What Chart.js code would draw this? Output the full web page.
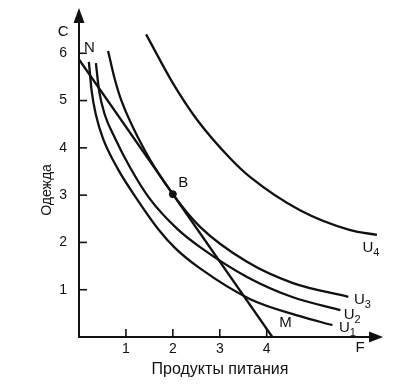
<!DOCTYPE html>
<html><head><meta charset="utf-8">
<script src="https://cdn.jsdelivr.net/npm/chart.js@4.4.1/dist/chart.umd.min.js"></script>
<style>html,body{margin:0;padding:0;background:#fff;}</style>
</head><body>
<canvas id="c" width="411" height="384"></canvas>
<script>
// ---- data ----
const xTicks = [1, 2, 3, 4];
const yTicks = [1, 2, 3, 4, 5, 6];
const xTitle = 'Продукты питания';
const yTitle = 'Одежда';
const curveU1 = [[0.21,5.82],[0.27,5.20],[0.36,4.70],[0.51,4.20],[0.83,3.55],[1.26,2.88],[1.69,2.28],[2.05,1.88],[2.58,1.45],[3.65,0.80],[4.71,0.44],[5.40,0.25]];
const curveU2 = [[0.36,5.79],[0.43,5.20],[0.55,4.70],[0.76,4.22],[1.08,3.60],[1.51,2.92],[2.10,2.28],[2.58,1.90],[3.58,1.27],[4.56,0.84],[5.57,0.57]];
const curveU3 = [[0.62,6.05],[0.75,5.50],[0.90,5.01],[1.40,3.95],[2.00,3.02],[2.58,2.33],[3.58,1.59],[4.56,1.14],[5.74,0.85]];
const curveU4 = [[1.43,6.40],[2.00,5.37],[2.52,4.59],[3.22,3.78],[3.65,3.38],[4.71,2.68],[5.78,2.26],[6.35,2.16]];
const budgetNM = [[0,5.87],[4.12,0]];
const pointB = [[2.0,3.02]];
// text labels: [text, subscript, x, y]
const labels = [['N','',0.22,6.12],['B','',2.22,3.27],['M','',4.40,0.30],['C','',-0.34,6.45],['F','',5.99,-0.24],
  ['U','4',6.22,1.88],['U','3',6.04,0.79],['U','2',5.82,0.46],['U','1',5.72,0.20]];

const toXY = a => a.map(p => ({x:p[0], y:p[1]}));
const FONT = '"Liberation Sans", Arial, sans-serif';
const INK = '#111';

function curve(data){
  return {data: toXY(data), borderColor: INK, borderWidth: 2.3, pointRadius: 0, cubicInterpolationMode: 'monotone', fill: false};
}

const deco = {
  id: 'deco',
  afterDraw(chart){
    const {ctx, scales:{x, y}} = chart;
    const x0 = x.getPixelForValue(0), y0 = y.getPixelForValue(0);
    const yTop = y.getPixelForValue(6.96), xEnd = x.getPixelForValue(6.48);
    ctx.save();
    ctx.strokeStyle = INK; ctx.fillStyle = INK; ctx.lineWidth = 2;
    // axes
    ctx.beginPath(); ctx.moveTo(x0, y0 + 1); ctx.lineTo(x0, yTop + 10); ctx.stroke();
    ctx.beginPath(); ctx.moveTo(x0 - 1, y0); ctx.lineTo(xEnd - 10, y0); ctx.stroke();
    ctx.beginPath(); ctx.moveTo(x0, yTop); ctx.lineTo(x0 - 5.5, yTop + 15); ctx.lineTo(x0 + 5.5, yTop + 15); ctx.closePath(); ctx.fill();
    ctx.beginPath(); ctx.moveTo(xEnd, y0); ctx.lineTo(xEnd - 14, y0 - 5.5); ctx.lineTo(xEnd - 14, y0 + 5.5); ctx.closePath(); ctx.fill();
    // inner tick marks
    ctx.lineWidth = 1.6;
    y.ticks.forEach(t => { const p = y.getPixelForValue(t.value); ctx.beginPath(); ctx.moveTo(x0, p); ctx.lineTo(x0 + 8, p); ctx.stroke(); });
    x.ticks.forEach(t => { const p = x.getPixelForValue(t.value); ctx.beginPath(); ctx.moveTo(p, y0); ctx.lineTo(p, y0 - 8); ctx.stroke(); });
    // labels
    ctx.textAlign = 'center'; ctx.textBaseline = 'middle';
    labels.forEach(([t, s, vx, vy]) => {
      const px = x.getPixelForValue(vx), py = y.getPixelForValue(vy);
      ctx.font = '15px ' + FONT;
      if (s) {
        const w = ctx.measureText(t).width;
        ctx.textAlign = 'left';
        ctx.fillText(t, px - w/2 - 3, py);
        ctx.font = '11px ' + FONT;
        ctx.fillText(s, px + w/2 - 3, py + 5);
        ctx.textAlign = 'center';
      } else {
        ctx.fillText(t, px, py);
      }
    });
    // axis titles
    ctx.font = '16px ' + FONT;
    ctx.fillText(xTitle, 220, 370);
    ctx.save(); ctx.translate(47, 190); ctx.rotate(-Math.PI/2);
    ctx.font = '14px ' + FONT; ctx.fillText(yTitle, 0, 0); ctx.restore();
    ctx.restore();
  }
};

new Chart(document.getElementById('c'), {
  type: 'line',
  data: {
    datasets: [
      curve(curveU1), curve(curveU2), curve(curveU3), curve(curveU4),
      {data: toXY(budgetNM), borderColor: INK, borderWidth: 2.3, pointRadius: 0, tension: 0},
      {data: toXY(pointB), showLine: false, pointRadius: 3.5, pointBackgroundColor: INK, pointBorderColor: INK}
    ]
  },
  options: {
    responsive: false, animation: false, devicePixelRatio: 1,
    layout: {padding: {top: 6, right: 27, left: 0, bottom: 0}},
    plugins: {legend: {display: false}, tooltip: {enabled: false}},
    scales: {
      x: {type: 'linear', min: 0, max: 6.5,
          afterBuildTicks: s => { s.ticks = xTicks.map(v => ({value: v})); },
          afterFit: s => { s.height = 47; s.paddingLeft = 0; s.paddingRight = 0; },
          grid: {display: false, drawTicks: false}, border: {display: false},
          ticks: {font: {family: FONT, size: 14}, color: INK, padding: 4}},
      y: {type: 'linear', min: 0, max: 7,
          afterBuildTicks: s => { s.ticks = yTicks.map(v => ({value: v})); },
          afterFit: s => { s.width = 79; s.paddingTop = 0; s.paddingBottom = 0; },
          grid: {display: false, drawTicks: false}, border: {display: false},
          ticks: {font: {family: FONT, size: 14}, color: INK, padding: 12}}
    }
  },
  plugins: [deco]
});
</script>
</body></html>
